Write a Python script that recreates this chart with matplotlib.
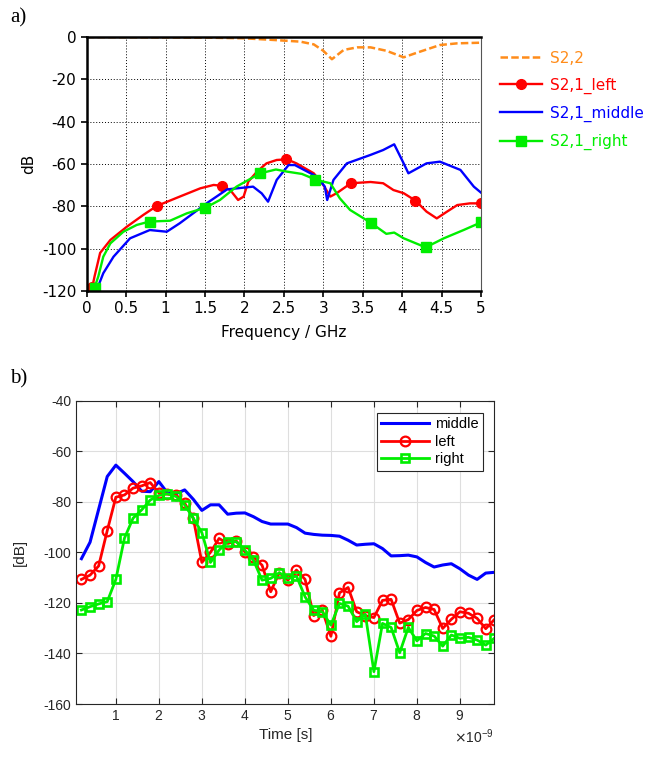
import numpy as np
import matplotlib
matplotlib.use("Agg")
import matplotlib.pyplot as plt
from matplotlib.ticker import ScalarFormatter
from matplotlib.lines import Line2D

plt.rcParams['axes.unicode_minus'] = False

# ---- a) S-parameters vs frequency ----
f_s22 = [0, 0.5, 1.0, 1.5, 1.99, 2.37, 2.71, 2.88, 3.0, 3.11, 3.26, 3.43, 3.6, 3.8, 4.02, 4.19, 4.48, 4.7, 5.0]
s22 = [0, -0.1, -0.2, -0.3, -0.6, -1.4, -2.2, -3.5, -6.5, -10.5, -6.1, -4.9, -4.9, -6.5, -9.6, -7.4, -3.8, -3.0, -2.7]

f_left = [0.06, 0.1, 0.17, 0.3, 0.51, 0.72, 0.89, 1.18, 1.44, 1.61, 1.71, 1.82, 1.92, 1.99, 2.05, 2.16,
          2.28, 2.41, 2.54, 2.66, 2.88, 3.0, 3.09, 3.17, 3.35, 3.6, 3.76, 3.89, 4.02, 4.17, 4.31, 4.44,
          4.57, 4.7, 4.86, 5.0]
s21_left = [-120, -113, -102, -95.9, -89.6, -84, -79.8, -75.4, -71.5, -69.9, -70.3, -72.3, -77, -75.4,
            -68.3, -63.6, -59.7, -58.1, -57.8, -59.7, -64.4, -69.9, -75.4, -73.8, -69.1, -68.5, -69.1,
            -72.3, -73.8, -77.3, -82.5, -85.7, -82.5, -79.4, -78.6, -78.6]
mk_left = [0.07, 0.89, 1.71, 2.53, 3.35, 4.17, 5.0]

f_mid = [0.127, 0.21, 0.34, 0.55, 0.80, 1.015, 1.18, 1.52, 1.78, 2.11, 2.22, 2.30, 2.41, 2.56, 2.64,
         2.92, 3.02, 3.05, 3.13, 3.30, 3.60, 3.76, 3.90, 4.02, 4.08, 4.31, 4.48, 4.74, 4.91, 5.0]
s21_mid = [-119.5, -111.6, -103.8, -95.1, -91.2, -92, -88, -78.6, -72, -70.7, -73.9, -77.8, -67.5,
           -60.5, -60.5, -66, -70.7, -77, -67.5, -59.7, -55.7, -53.4, -50.7, -59.7, -64.4, -59.7,
           -58.9, -62.8, -70.7, -73.5]

f_right = [0.09, 0.148, 0.21, 0.3, 0.465, 0.634, 0.795, 1.057, 1.27, 1.51, 1.69, 1.9, 2.2, 2.4, 2.54,
           2.73, 2.91, 3.09, 3.21, 3.34, 3.6, 3.8, 3.9, 4.02, 4.3, 4.53, 4.78, 5.0]
s21_right = [-119.5, -113, -103.8, -97.5, -92, -88.8, -87.2, -86.8, -83.3, -80.6, -77, -70.7, -64.4,
             -62.6, -63.6, -64.7, -67.5, -69.1, -76.2, -81.7, -87.7, -93, -92.4, -95.1, -99.4, -95.1,
             -91.2, -87.6]
mk_right = [0.1, 0.8, 1.5, 2.2, 2.9, 3.6, 4.3, 5.0]

# ---- b) time domain ----
t_ns = [0.2, 0.4, 0.6, 0.8, 1.0, 1.2, 1.4, 1.6, 1.8, 2.0, 2.2, 2.4, 2.6, 2.8, 3.0, 3.2, 3.4, 3.6, 3.8,
        4.0, 4.2, 4.4, 4.6, 4.8, 5.0, 5.2, 5.4, 5.6, 5.8, 6.0, 6.2, 6.4, 6.6, 6.8, 7.0, 7.2, 7.4, 7.6,
        7.8, 8.0, 8.2, 8.4, 8.6, 8.8, 9.0, 9.2, 9.4, 9.6, 9.8]
td_middle = [-102.5, -96, -83, -70, -65.5, -68.7, -72, -75.8, -76, -72, -76.5, -76.8, -75.3, -79, -83.4,
             -81.2, -81.2, -84.9, -84.5, -84.4, -85.9, -87.8, -88.8, -88.8, -88.8, -90.2, -92.4, -92.9,
             -93.2, -93.3, -93.6, -95.2, -97.1, -96.8, -96.6, -98.5, -101.4, -101.3, -101.1, -101.8,
             -104, -105.8, -105, -104.5, -106.5, -109, -110.7, -108.2, -107.9]
td_left = [-110.7, -109, -105.4, -91.4, -78.2, -77.3, -74.6, -73.7, -72.4, -76.5, -77, -77.3, -80.5,
           -86.5, -104, -100, -94.5, -96.5, -95.5, -99.8, -101.8, -105.1, -115.6, -108.1, -111, -107,
           -110.7, -125, -122.9, -133.2, -116, -113.9, -123.5, -125, -125.8, -119, -118.6, -128, -126.6,
           -123, -121.8, -122.6, -130.1, -126.5, -123.5, -124.1, -126.1, -130.2, -126.6]
td_right = [-122.8, -121.5, -120.4, -119.5, -110.7, -94.4, -86.5, -83.2, -79.3, -77.5, -76.8, -77.9,
            -81.2, -86.5, -92.2, -104, -99.1, -95.8, -95.8, -99.1, -103.1, -111, -110.3, -108.1, -110.3,
            -109.4, -117.6, -122.9, -123.5, -128.8, -120.2, -121.3, -127.4, -124.4, -147.2, -128.1,
            -129.7, -139.7, -129.7, -135, -132.1, -133.1, -137.1, -132.7, -134, -133.6, -134.7, -136.7,
            -134]

ORANGE = '#ff8c1a'
RED = '#ff0000'
BLUE = '#0000ff'
GREEN = '#00ee00'

fig = plt.figure(figsize=(6.57, 7.58), dpi=100)

# ================= a) =================
ax1 = fig.add_axes([0.132, 0.6161, 0.600, 0.3351])
fa = {'family': 'DejaVu Sans', 'size': 11}

ax1.plot(f_s22, s22, color=ORANGE, lw=1.8, ls=(0, (3, 1.3)))
ax1.plot(f_left, s21_left, color=RED, lw=1.7)
ax1.plot(mk_left, np.interp(mk_left, f_left, s21_left), 'o', color=RED, ms=7)
ax1.plot(f_mid, s21_mid, color=BLUE, lw=1.7)
ax1.plot(f_right, s21_right, color=GREEN, lw=1.7)
ax1.plot(mk_right, np.interp(mk_right, f_right, s21_right), 's', color=GREEN, ms=7)

ax1.set_xlim(0, 5)
ax1.set_ylim(-120, 0)
ax1.set_xticks(np.arange(0, 5.01, 0.5))
ax1.set_xticklabels(['0', '0.5', '1', '1.5', '2', '2.5', '3', '3.5', '4', '4.5', '5'], fontdict=fa)
ax1.set_yticks(np.arange(-120, 1, 20))
ax1.set_yticklabels([str(v) for v in range(-120, 1, 20)], fontdict=fa)
ax1.grid(True, color='black', ls=(0, (1, 2)), lw=0.7)
ax1.tick_params(direction='out', length=4, width=1.2, color='black')
for s in ['left', 'bottom', 'top']:
    ax1.spines[s].set_linewidth(1.8)
ax1.spines['right'].set_linewidth(0.8)
ax1.spines['right'].set_color('#555555')
ax1.set_xlabel('Frequency / GHz', fontdict=fa, labelpad=6)
ax1.set_ylabel('dB', fontdict=fa, labelpad=4)

h1 = [Line2D([], [], color=ORANGE, lw=1.8, ls=(0, (3, 1.3))),
      Line2D([], [], color=RED, lw=1.7, marker='o', ms=7),
      Line2D([], [], color=BLUE, lw=1.7),
      Line2D([], [], color=GREEN, lw=1.7, marker='s', ms=7)]
leg1 = fig.legend(h1, ['S2,2', 'S2,1_left', 'S2,1_middle', 'S2,1_right'],
                  loc='upper left', bbox_to_anchor=(0.761, 0.933), frameon=False,
                  prop={'family': 'DejaVu Sans', 'size': 11}, handlelength=2.75,
                  handletextpad=0.5, labelspacing=0.78, borderpad=0, borderaxespad=0,
                  labelcolor='linecolor')

fig.text(0.015, 0.976, 'a)', family='Liberation Serif', fontsize=15, va='center')

# ================= b) =================
ax2 = fig.add_axes([0.1161, 0.0712, 0.6363, 0.4002])
t_s = np.array(t_ns) * 1e-9

ax2.plot(t_s, td_middle, color=BLUE, lw=2.2, label='middle')
ax2.plot(t_s, td_left, color=RED, lw=2.0, marker='o', ms=7, mfc='none', mew=1.6, label='left')
ax2.plot(t_s, td_right, color=GREEN, lw=2.0, marker='s', ms=6.3, mfc='none', mew=1.9, label='right')

ax2.set_xlim(0.08e-9, 9.8e-9)
ax2.set_ylim(-160, -40)
ax2.set_xticks(np.arange(1, 10) * 1e-9)
ax2.set_yticks(np.arange(-160, -39, 20))
fmt = ScalarFormatter(useMathText=True)
fmt.set_powerlimits((0, 0))
ax2.xaxis.set_major_formatter(fmt)
ax2.grid(True, color='#dedede', lw=0.8)
ax2.set_axisbelow(True)
ax2.tick_params(direction='in', length=4, width=0.8, color='#262626', labelcolor='#262626',
                top=True, right=True, labelsize=10)
for lab in ax2.get_xticklabels() + ax2.get_yticklabels():
    lab.set_family('Liberation Sans')
ax2.xaxis.get_offset_text().set_family('Liberation Sans')
ax2.xaxis.get_offset_text().set_fontsize(10)
ax2.xaxis.get_offset_text().set_color('#262626')
for s in ax2.spines.values():
    s.set_color('#262626')
    s.set_linewidth(0.8)
ax2.set_xlabel('Time [s]', fontdict={'family': 'Liberation Sans', 'size': 11, 'color': '#262626'})
ax2.set_ylabel('[dB]', fontdict={'family': 'Liberation Sans', 'size': 11, 'color': '#262626'},
               labelpad=12)

leg2 = ax2.legend(loc='upper right', bbox_to_anchor=(0.973, 0.96), fancybox=False,
                  edgecolor='#262626', framealpha=1, handlelength=3.3, handletextpad=0.4,
                  labelspacing=0.25, borderpad=0.3, borderaxespad=0,
                  prop={'family': 'Liberation Sans', 'size': 10.5})
leg2.get_frame().set_linewidth(0.8)

fig.text(0.015, 0.500, 'b)', family='Liberation Serif', fontsize=15, va='center')

fig.savefig('out.png', dpi=100)
